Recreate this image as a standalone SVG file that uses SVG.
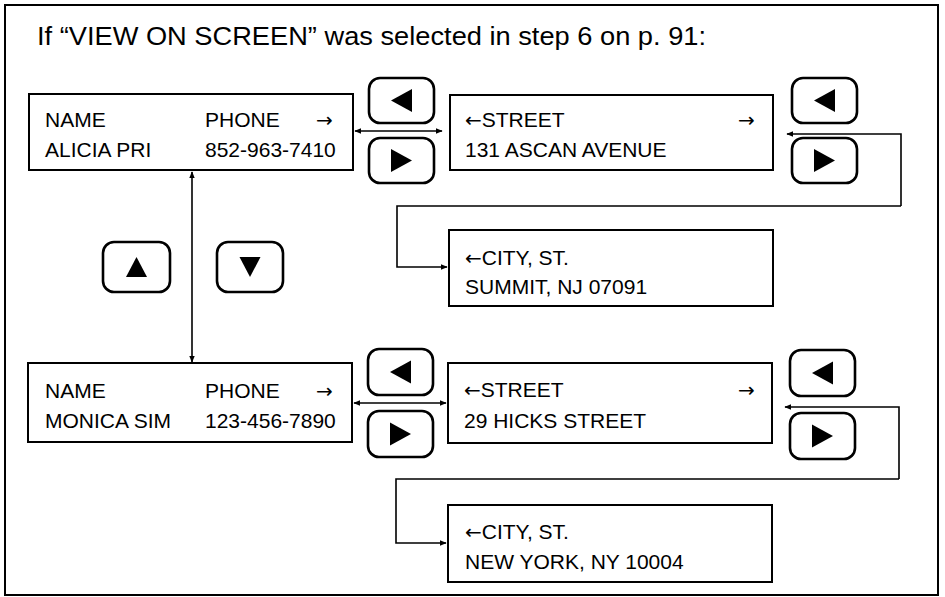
<svg xmlns="http://www.w3.org/2000/svg" width="945" height="597" viewBox="0 0 945 597">
<defs>
<style>
.t{font-family:"Liberation Sans",Arial,sans-serif;font-size:21px;fill:#000}
.ar{font-family:"DejaVu Sans",sans-serif;font-size:20px}
.ttl{font-family:"Liberation Sans",Arial,sans-serif;font-size:25px;fill:#000}
.box{fill:#fff;stroke:#000;stroke-width:2}
.btn{fill:#fff;stroke:#000;stroke-width:2.6}
.tri{fill:#000}
.ln{fill:none;stroke:#000;stroke-width:1.6}
</style>
<marker id="ah" viewBox="0 0 10 10" refX="9" refY="5" markerWidth="7" markerHeight="7" markerUnits="userSpaceOnUse" orient="auto-start-reverse">
<path d="M0,1 L10,5 L0,9 Z" fill="#000"/>
</marker>
</defs>
<rect x="5" y="5" width="933" height="590" fill="#fff" stroke="#000" stroke-width="2"/>
<text class="ttl" x="37" y="45" textLength="669" lengthAdjust="spacingAndGlyphs">If “VIEW ON SCREEN” was selected in step 6 on p. 91:</text>

<g id="connectors">
<line class="ln" x1="355" y1="131" x2="442" y2="131" marker-start="url(#ah)" marker-end="url(#ah)"/>
<line class="ln" x1="192" y1="172" x2="192" y2="362" marker-start="url(#ah)" marker-end="url(#ah)"/>
<polyline class="ln" points="901,206 901,134 787,134" marker-end="url(#ah)"/>
<polyline class="ln" points="901,206 397,206 397,267 447,267" marker-end="url(#ah)"/>
<line class="ln" x1="354" y1="403" x2="446" y2="403" marker-start="url(#ah)" marker-end="url(#ah)"/>
<polyline class="ln" points="899,479 899,407 785,407" marker-end="url(#ah)"/>
<polyline class="ln" points="899,479 396,479 396,543 446,543" marker-end="url(#ah)"/>
</g>

<g id="box1">
<rect class="box" x="29" y="94" width="324" height="76"/>
<text class="t" x="45" y="127">NAME</text>
<text class="t" x="205" y="127">PHONE</text>
<text class="t ar" x="316" y="127">→</text>
<text class="t" x="45" y="157">ALICIA PRI</text>
<text class="t" x="205" y="157">852-963-7410</text>
</g>
<g id="box2">
<rect class="box" x="450" y="95" width="323" height="75"/>
<text class="t" x="465" y="127"><tspan class="ar">←</tspan>STREET</text>
<text class="t ar" x="738" y="127">→</text>
<text class="t" x="465" y="157">131 ASCAN AVENUE</text>
</g>
<g id="box3">
<rect class="box" x="449" y="230" width="324" height="76"/>
<text class="t" x="465" y="265"><tspan class="ar">←</tspan>CITY, ST.</text>
<text class="t" x="465" y="294">SUMMIT, NJ 07091</text>
</g>
<g id="box4">
<rect class="box" x="28" y="363" width="324" height="79"/>
<text class="t" x="45" y="398">NAME</text>
<text class="t" x="205" y="398">PHONE</text>
<text class="t ar" x="316" y="398">→</text>
<text class="t" x="45" y="428">MONICA SIM</text>
<text class="t" x="205" y="428">123-456-7890</text>
</g>
<g id="box5">
<rect class="box" x="448" y="363" width="324" height="80"/>
<text class="t" x="464" y="397"><tspan class="ar">←</tspan>STREET</text>
<text class="t ar" x="738" y="397">→</text>
<text class="t" x="464" y="428">29 HICKS STREET</text>
</g>
<g id="box6">
<rect class="box" x="448" y="505" width="324" height="77"/>
<text class="t" x="465" y="539"><tspan class="ar">←</tspan>CITY, ST.</text>
<text class="t" x="465" y="569">NEW YORK, NY 10004</text>
</g>

<g id="btn-left-1">
<rect class="btn" x="369" y="78" width="65" height="45" rx="11"/>
<path class="tri" d="M391,100.5 L412,89 L412,112 Z"/>
</g>
<g id="btn-right-1">
<rect class="btn" x="369" y="138" width="65" height="45" rx="11"/>
<path class="tri" d="M412,160.5 L391,149 L391,172 Z"/>
</g>
<g id="btn-left-2">
<rect class="btn" x="792" y="78" width="65" height="45" rx="11"/>
<path class="tri" d="M814,100.5 L835,89 L835,112 Z"/>
</g>
<g id="btn-right-2">
<rect class="btn" x="792" y="138" width="65" height="45" rx="11"/>
<path class="tri" d="M835,160.5 L814,149 L814,172 Z"/>
</g>
<g id="btn-up">
<rect class="btn" x="103" y="242" width="67" height="50" rx="11"/>
<path class="tri" d="M136.5,257 L147,277 L126,277 Z"/>
</g>
<g id="btn-down">
<rect class="btn" x="217" y="242" width="66" height="50" rx="11"/>
<path class="tri" d="M250,277 L239.5,257 L260.5,257 Z"/>
</g>
<g id="btn-left-3">
<rect class="btn" x="368" y="349" width="65" height="46" rx="11"/>
<path class="tri" d="M390,372 L411,360.5 L411,383.5 Z"/>
</g>
<g id="btn-right-3">
<rect class="btn" x="368" y="411" width="65" height="46" rx="11"/>
<path class="tri" d="M411,434 L390,422.5 L390,445.5 Z"/>
</g>
<g id="btn-left-4">
<rect class="btn" x="790" y="350" width="65" height="46" rx="11"/>
<path class="tri" d="M812,373 L833,361.5 L833,384.5 Z"/>
</g>
<g id="btn-right-4">
<rect class="btn" x="790" y="413" width="65" height="46" rx="11"/>
<path class="tri" d="M833,436 L812,424.5 L812,447.5 Z"/>
</g>
</svg>
